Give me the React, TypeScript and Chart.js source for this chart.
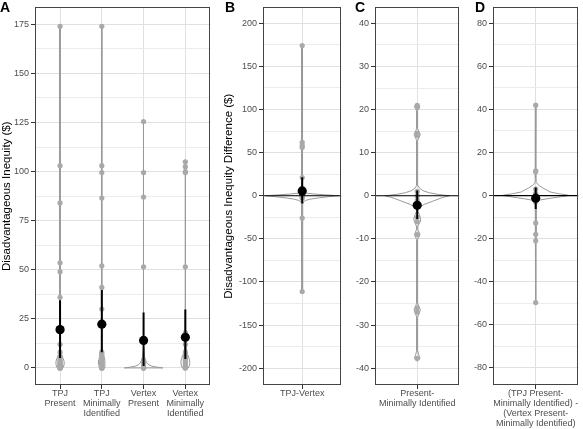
import React, { useEffect, useRef } from 'react';
import { Chart, registerables } from 'chart.js';

Chart.register(...registerables);

const FONT = "'Liberation Sans', Arial, Helvetica, sans-serif";
const TICK_TEXT = '#4d4d4d';
const TICK_MARK = '#333333';
const MAJOR_GRID = '#e0e0e0';
const MINOR_GRID = '#ececec';
const POINT_COLOR = '#a9a9a9';
const VIOLIN_COLOR = '#999999';
const H = 429;

// ---------- Panel A ----------
const categoriesA = [
  ['TPJ', 'Present'],
  ['TPJ', 'Minimally', 'Identified'],
  ['Vertex', 'Present'],
  ['Vertex', 'Minimally', 'Identified'],
];
const yTicksA = [0, 25, 50, 75, 100, 125, 150, 175];
const yMinorA = [12.5, 37.5, 62.5, 87.5, 112.5, 137.5, 162.5];

const pointsTpjPresent = [174, 103, 84, 53.5, 49, 36, 12, 8, 6, 5, 4, 3.5, 3, 2.5, 2, 1.5, 1, 1, 0.5, 0.5, 0, 0, 0, 0];
const pointsTpjMin = [174, 103, 99.5, 86.5, 52, 41, 30, 8, 7, 6, 5, 4, 3, 2.5, 2, 1.5, 1, 0.5, 0, 0, 0, 0];
const pointsVertexPresent = [125.5, 99.5, 87, 51.5, 4, 3, 2, 1, 0.5, 0, 0, 0];
const pointsVertexMin = [105, 102.5, 100, 99.5, 51.5, 18, 12, 8, 6, 5, 4, 3, 2, 1, 0.5, 0, 0];

const meansA = [19.5, 22.3, 14, 15.6];
const ciLowA = [5, 8, 1, 4.5];
const ciHighA = [34.5, 39.7, 28.2, 29.8];

// violin profiles: [y value, half width in category units]
const violinTpjPresent: [number, number][] = [[0, 0.065], [1, 0.09], [2.5, 0.1], [4, 0.09], [5.5, 0.06], [7, 0.03], [9, 0.014], [12, 0.009], [25, 0.006], [60, 0.005], [174, 0.004]];
const violinTpjMin: [number, number][] = [[0, 0.06], [2, 0.075], [4, 0.07], [6, 0.05], [8, 0.03], [10, 0.014], [15, 0.008], [40, 0.006], [174, 0.004]];
const violinVertexPresent: [number, number][] = [[0, 0.46], [0.4, 0.32], [0.9, 0.2], [1.5, 0.13], [2.5, 0.08], [4, 0.045], [6, 0.02], [10, 0.01], [25, 0.006], [125.5, 0.004]];
const violinVertexMin: [number, number][] = [[0, 0.07], [1.5, 0.1], [3.5, 0.105], [5.5, 0.08], [7.5, 0.04], [10, 0.018], [14, 0.009], [30, 0.006], [105, 0.004]];

// ---------- Panel B ----------
const categoriesB = [['TPJ-Vertex']];
const yTicksB = [-200, -150, -100, -50, 0, 50, 100, 150, 200];
const yMinorB = [-175, -125, -75, -25, 25, 75, 125, 175];
const pointsB = [174, 62, 58.5, 56, 21, 4, 2, 1, 0, 0, 0, -1, -3, -25.8, -111];
const meanB = 5.6;
const ciLowB = -9;
const ciHighB = 21.5;
const violinB: [number, number][] = [[-111, 0.004], [-30, 0.006], [-10, 0.01], [-7, 0.02], [-5.5, 0.05], [-4, 0.12], [-2.5, 0.25], [-1, 0.42], [0, 0.56], [1, 0.36], [2, 0.18], [3, 0.06], [4, 0.015], [8, 0.007], [60, 0.006], [174, 0.004]];

// ---------- Panel C ----------
const categoriesC = [['Present-', 'Minimally Identified']];
const yTicksC = [-40, -30, -20, -10, 0, 10, 20, 30, 40];
const yMinorC = [-35, -25, -15, -5, 5, 15, 25, 35];
const pointsC = [21, 20.5, 14.5, 14, 1, 0, 0, -1, -5, -6, -9, -26, -27, -37.7];
const meanC = -2.2;
const ciLowC = -5.4;
const ciHighC = 1.2;
const violinC: [number, number][] = [[-38.3, 0.01], [-37.7, 0.04], [-36.8, 0.02], [-35.8, 0.006], [-28.2, 0.006], [-26.5, 0.045], [-24.9, 0.006], [-10.2, 0.006], [-9, 0.04], [-7.8, 0.008], [-7, 0.012], [-6, 0.04], [-5.2, 0.048], [-4.4, 0.03], [-3.6, 0.01], [-2.8, 0.015], [-2, 0.1], [-1.2, 0.23], [-0.4, 0.36], [0, 0.46], [0.3, 0.3], [0.7, 0.17], [1.2, 0.08], [1.8, 0.03], [2.4, 0.01], [4, 0.006], [12.8, 0.006], [14.2, 0.045], [15.6, 0.006], [19.8, 0.006], [20.8, 0.04], [21.3, 0.006]];

// ---------- Panel D ----------
const categoriesD = [['(TPJ Present-', 'Minimally Identified) -', '(Vertex Present-', 'Minimally Identified)']];
const yTicksD = [-80, -60, -40, -20, 0, 20, 40, 60, 80];
const yMinorD = [-70, -50, -30, -10, 10, 30, 50, 70];
const pointsD = [42, 11.5, 11, 3, 1, 0, 0, -1, -3, -12.7, -18, -21, -49.7];
const meanD = -1.2;
const ciLowD = -6.3;
const ciHighD = 3.7;
const violinD: [number, number][] = [[-49.7, 0.004], [-20, 0.005], [-4, 0.006], [-2.5, 0.014], [-2, 0.07], [-1.5, 0.16], [-1, 0.26], [-0.5, 0.36], [0, 0.47], [0.3, 0.44], [0.8, 0.33], [1.7, 0.2], [2.5, 0.16], [3.5, 0.1], [4.8, 0.04], [6, 0.01], [8, 0.006], [42, 0.004]];

interface Group { points: number[]; violin: [number, number][]; mean: number; lo: number; hi: number; }
interface PanelSpec {
  letter: string; letterX: number;
  left: number; width: number; yAxisWidth: number; padRight: number;
  yMin: number; yMax: number; yMajor: number[]; yMinor: number[];
  categories: string[][]; groups: Group[];
  yTitle?: string; titlePad: number; zeroLine: boolean;
}

const panels: PanelSpec[] = [
  {
    letter: 'A', letterX: 0, left: 0, width: 215, yAxisWidth: 35, padRight: 2,
    yMin: -8.7, yMax: 183.6, yMajor: yTicksA, yMinor: yMinorA, categories: categoriesA,
    groups: [
      { points: pointsTpjPresent, violin: violinTpjPresent, mean: meansA[0], lo: ciLowA[0], hi: ciHighA[0] },
      { points: pointsTpjMin, violin: violinTpjMin, mean: meansA[1], lo: ciLowA[1], hi: ciHighA[1] },
      { points: pointsVertexPresent, violin: violinVertexPresent, mean: meansA[2], lo: ciLowA[2], hi: ciHighA[2] },
      { points: pointsVertexMin, violin: violinVertexMin, mean: meansA[3], lo: ciLowA[3], hi: ciHighA[3] },
    ],
    yTitle: 'Disadvantageous Inequity ($)', titlePad: 0, zeroLine: false,
  },
  {
    letter: 'B', letterX: 225, left: 215, width: 131, yAxisWidth: 48, padRight: 1,
    yMin: -219.4, yMax: 218.3, yMajor: yTicksB, yMinor: yMinorB, categories: categoriesB,
    groups: [{ points: pointsB, violin: violinB, mean: meanB, lo: ciLowB, hi: ciHighB }],
    yTitle: 'Disadvantageous Inequity Difference ($)', titlePad: 7, zeroLine: true,
  },
  {
    letter: 'C', letterX: 355, left: 346, width: 118, yAxisWidth: 29, padRight: 1,
    yMin: -43.9, yMax: 43.7, yMajor: yTicksC, yMinor: yMinorC, categories: categoriesC,
    groups: [{ points: pointsC, violin: violinC, mean: meanC, lo: ciLowC, hi: ciHighC }],
    titlePad: 0, zeroLine: true,
  },
  {
    letter: 'D', letterX: 475, left: 464, width: 119, yAxisWidth: 29, padRight: 1,
    yMin: -88, yMax: 87.4, yMajor: yTicksD, yMinor: yMinorD, categories: categoriesD,
    groups: [{ points: pointsD, violin: violinD, mean: meanD, lo: ciLowD, hi: ciHighD }],
    titlePad: 0, zeroLine: true,
  },
];

function violinPath(center: number, profile: [number, number][]) {
  const right = profile.map(([y, w]) => ({ x: center + w, y }));
  const left = profile.slice().reverse().map(([y, w]) => ({ x: center - w, y }));
  return [...right, ...left, right[0]];
}

const framePlugin = {
  id: 'frame',
  afterDatasetsDraw(chart: any) {
    const { ctx, chartArea } = chart;
    const l = Math.round(chartArea.left), t = Math.round(chartArea.top);
    const r = Math.round(chartArea.right), b = Math.round(chartArea.bottom);
    ctx.save();
    ctx.strokeStyle = '#444444';
    ctx.lineWidth = 1;
    ctx.strokeRect(l + 0.5, t + 0.5, r - l - 1, b - t - 1);
    ctx.restore();
  },
};

function buildConfig(spec: PanelSpec): any {
  const n = spec.categories.length;
  const xMin = -0.6, xMax = n - 1 + 0.6;
  const datasets: any[] = [];
  spec.groups.forEach((g, i) => {
    datasets.push({
      data: violinPath(i, g.violin), showLine: true, pointRadius: 0, borderColor: VIOLIN_COLOR,
      borderWidth: 1, fill: false, tension: 0, order: 5,
    });
    datasets.push({
      data: g.points.map((v) => ({ x: i, y: v })), pointRadius: 2.6, pointBackgroundColor: POINT_COLOR,
      pointBorderWidth: 0, showLine: false, order: 4,
    });
    datasets.push({
      data: [{ x: i, y: g.lo }, { x: i, y: g.hi }], showLine: true, pointRadius: 0, borderColor: '#000000',
      borderWidth: 2, order: 2,
    });
    datasets.push({
      data: [{ x: i, y: g.mean }], pointRadius: 4.6, pointBackgroundColor: '#000000', pointBorderWidth: 0,
      showLine: false, order: 1,
    });
  });
  if (spec.zeroLine) {
    datasets.push({
      data: [{ x: xMin, y: 0 }, { x: xMax, y: 0 }], showLine: true, pointRadius: 0, borderColor: '#000000',
      borderWidth: 1.2, order: 3,
    });
  }
  const majorSet = new Set(spec.yMajor);
  const allY = [...spec.yMajor, ...spec.yMinor].sort((a, b) => a - b);
  return {
    type: 'scatter',
    data: { datasets },
    options: {
      animation: false,
      responsive: false,
      events: [],
      layout: { padding: { top: 2, right: spec.padRight, left: 0, bottom: 0 } },
      plugins: { legend: { display: false }, tooltip: { enabled: false } },
      scales: {
        x: {
          type: 'linear', min: xMin, max: xMax,
          afterBuildTicks: (s: any) => { s.ticks = spec.categories.map((_, i) => ({ value: i })); },
          afterFit: (s: any) => { s.height = 44; },
          ticks: {
            autoSkip: false, maxRotation: 0, minRotation: 0, padding: 0, color: TICK_TEXT,
            font: { family: FONT, size: 9, lineHeight: 1.11 },
            callback: (_v: any, idx: number) => spec.categories[idx],
          },
          grid: { color: MAJOR_GRID, lineWidth: 1, tickLength: 4, tickColor: TICK_MARK },
          border: { display: false },
        },
        y: {
          type: 'linear', min: spec.yMin, max: spec.yMax,
          afterBuildTicks: (s: any) => { s.ticks = allY.map((v) => ({ value: v })); },
          afterFit: (s: any) => { s.width = spec.yAxisWidth; },
          ticks: {
            autoSkip: false, padding: 2, color: TICK_TEXT,
            font: { family: FONT, size: 9 },
            callback: (v: any) => (majorSet.has(v) ? String(v) : ''),
          },
          grid: {
            color: (c: any) => (majorSet.has(c.tick?.value) ? MAJOR_GRID : MINOR_GRID),
            lineWidth: 1, tickLength: 4,
            tickColor: (c: any) => (majorSet.has(c.tick?.value) ? TICK_MARK : 'rgba(0,0,0,0)'),
          },
          border: { display: false },
          title: {
            display: !!spec.yTitle, text: spec.yTitle ?? '', color: '#000000',
            font: { family: FONT, size: 11.5 }, padding: { top: spec.titlePad, bottom: 0 },
          },
        },
      },
    },
    plugins: [framePlugin],
  };
}

function Panel({ spec }: { spec: PanelSpec }) {
  const ref = useRef<HTMLCanvasElement>(null);
  useEffect(() => {
    if (!ref.current) return;
    const chart = new Chart(ref.current, buildConfig(spec));
    return () => chart.destroy();
  }, [spec]);
  return (
    <canvas
      ref={ref}
      width={spec.width}
      height={H}
      style={{ position: 'absolute', left: spec.left, top: 0, width: spec.width, height: H }}
    />
  );
}

export default function App() {
  return (
    <div style={{ position: 'absolute', left: 0, top: 0, width: 583, height: H, background: '#ffffff', overflow: 'hidden' }}>
      {panels.map((p) => (
        <Panel key={p.letter} spec={p} />
      ))}
      {panels.map((p) => (
        <div
          key={'l' + p.letter}
          style={{
            position: 'absolute', left: p.letterX, top: 0, fontFamily: FONT, fontWeight: 'bold',
            fontSize: 14, lineHeight: '14px', color: '#000',
          }}
        >
          {p.letter}
        </div>
      ))}
    </div>
  );
}
